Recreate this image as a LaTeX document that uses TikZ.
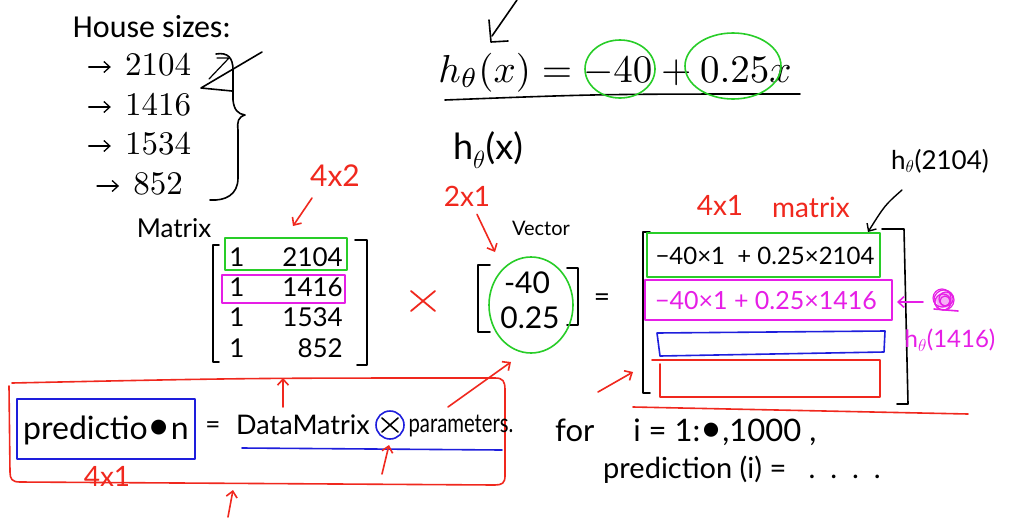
\documentclass[tikz,border=0pt]{standalone}
\usepackage{fontspec}
\newfontfamily\slidefont{Carlito}
\newfontfamily\handfont{Lato}
\usetikzlibrary{arrows.meta}
\newcommand\fsz[1]{\fontsize{#1}{#1}\selectfont}
\definecolor{pgreen}{RGB}{40,205,40}
\definecolor{pmag}{RGB}{230,30,230}
\definecolor{pblue}{RGB}{30,30,220}
\definecolor{pred}{RGB}{240,40,30}
\begin{document}
\begin{tikzpicture}[x=1pt,y=-1pt,
  ink/.style={line width=1.6pt,line cap=round,line join=round},
  arr/.style={ink,-{Straight Barb[length=6pt,width=11pt]}},
  hw/.style={font={\handfont\fsz{#1}},inner sep=0pt},
  hw/.default=22,
  num/.style={inner sep=0pt}]
\fill[white] (0,0) rectangle (1011,525);
\useasboundingbox (0,0) rectangle (1011,525);

% --- house sizes
\node[font={\slidefont\fsz{32}},inner sep=0pt] (title) at (152,27) {House sizes:};
\node[num] (n1) at (158,65) {\scalebox{3.3}{2104}};
\node[num] (n2) at (158,105) {\scalebox{3.3}{1416}};
\node[num] (n3) at (158,144) {\scalebox{3.3}{1534}};
\node[num] (n4) at (158,184) {\scalebox{3.3}{852}};
\foreach \n in {n1,n2,n3,n4}
  \draw[arr,line width=1.3pt] (\n.west) ++(-36,2) -- ++(22,0);
% brace
\draw[ink] (216,54) .. controls (228,52) and (233,58) .. (233,70)
  -- (233,100) .. controls (234,110) and (238,114) .. (245,115)
  .. controls (238,117) and (237,122) .. (238,130)
  -- (238,178) .. controls (238,195) and (225,201) .. (210,200);
% scribble
\draw[ink] (262,52) -- (201,88) -- (232,91);
\draw[ink,line width=1.2pt] (217,58) -- (229,58) -- (209,79);

% --- hypothesis
\draw[ink] (517,0) -- (492,36);
\draw[ink] (489,20) -- (491,42) -- (508,41);
\node[inner sep=0pt,anchor=base] (hyp) at (615,82) {\scalebox{3.9}{$h_\theta(x) = -40 + 0.25x$}};
\draw[ink] (445,100) .. controls (600,94) .. (800,94);
\draw[ink,pgreen] (620,69) ellipse [x radius=35,y radius=29];
\draw[ink,pgreen] (733,66) ellipse [x radius=48,y radius=33];
\node[hw=36] (hx) at (488,150) {h$_\theta$(x)};

% --- data matrix
\node[hw=30,pred] (l42) at (335,176) {4x2};
\coordinate (m42) at (293,226);
\draw[arr,pred] (312,198) -- (m42);
\node[hw=26] (matlab) at (174,228) {Matrix};
\foreach \r/\y/\v in {1/257/2104,2/287/1416,3/317/1534,4/348/852}{
  \node[hw=26] (a\r) at (237,\y) {1};
  \node[hw=26,anchor=east] (b\r) at (343,\y) {\v};
}
\draw[ink] (219,245) -- (213,245) -- (213,362) -- (219,362);
\draw[ink] (355,240) -- (367,240) -- (367,365) -- (357,365);
\draw[ink,pgreen] (225,238) rectangle (347,270);
\draw[ink,pmag] (222,275) rectangle (345,303);

% --- times
\draw[ink,pred,line width=1.8pt] (411,291) -- (435,311) (435,291) -- (411,311);

% --- vector
\node[hw=28,pred] (l21) at (467,196) {2x1};
\coordinate (v21) at (495,252);
\draw[arr,pred] (l21.south) ++(10,8) -- (v21);
\node[hw=20] (veclab) at (541,228) {Vector};
\node[hw=30] (v1) at (527,283) {-40};
\node[hw=30] (v2) at (530,318) {0.25};
\draw[ink] (490,265) -- (478,265) -- (478,332) -- (490,332);
\draw[ink] (567,268) -- (578,268) -- (578,325) -- (567,325);
\draw[ink,pgreen] (531,305) ellipse [x radius=42,y radius=48];
\node[hw=28] (eq) at (602,300) {=};

% --- result
\node[hw=28,pred] (l41) at (720,205) {4x1};
\node[hw=28,pred] (l41m) at (811,207) {matrix};
\node[hw=26] (h2104) at (940,161) {h$_\theta$(2104)};
\coordinate (t2104) at (868,232);
\draw[arr,line width=1.4pt] (902,190) .. controls (885,205) .. (t2104);
\draw[ink] (650,232) -- (643,232) -- (643,393) -- (650,393);
\draw[ink] (882,229) -- (904,229) -- (908,404) -- (897,404);
\draw[ink,pgreen] (647,233) rectangle (880,277);
\node[hw=24] (r1) at (765,256) {−40×1 \ + 0.25×2104};
\draw[ink,pmag] (645,280) rectangle (892,320);
\node[hw=25,pmag] (r2) at (766,301) {−40×1 + 0.25×1416};
\draw[ink,pblue] (657,333) -- (885,331) -- (884,352) -- (660,356) -- cycle;
\draw[ink,pred] (652,360) -- (880,360) -- (880,397) -- (660,397) -- (660,364);
\draw[ink,pred] (633,407) -- (968,414);
\coordinate (rin) at (633,372);
\draw[arr,pred] (598,392) -- (rin);
% magenta h(1416)
\coordinate (mtip) at (897,302);
\node[inner sep=0pt,minimum size=20pt] (blob) at (944,300) {};
\draw[arr,pmag] (923,302) -- (mtip);
\fill[pmag!35] (944,300) circle (8);
\foreach \dx/\dy/\rr in {0/0/10,2/-1/7,-1/2/8,1/1/5,-2/-2/9}
  \draw[ink,pmag,line width=1.2pt] (944+\dx,300+\dy) circle (\rr);
\draw[ink,pmag] (934,309) -- (958,311);
\node[hw=24,pmag] (h1416) at (950,340) {h$_\theta$(1416)};

% --- bottom statement
\draw[ink,pred] (12,383) .. controls (250,378) .. (495,378)
  .. controls (503,378) and (505,381) .. (505,390)
  -- (505,476) .. controls (505,483) and (502,485) .. (495,485)
  -- (20,482) .. controls (12,482) and (10,479) .. (10,472) -- (9,386);
\node[draw=pblue,ink,minimum width=178pt,minimum height=60pt,inner sep=0pt] (predbox) at (106,429) {};
\node[hw=32] (pred) at (106,430) {predictio{\fsz{40}•}n};
\node[hw=26] (eq2) at (213,428) {=};
\node[hw=27] (dm) at (303,425) {DataMatrix};
\node[draw=pblue,circle,ink,inner sep=0pt,minimum size=28pt] (star) at (390,425) {};
\draw[ink] (star.center) ++(-8,-7) -- ++(16,14) (star.center) ++(8,-7) -- ++(-16,14);
\node[hw=26] (par) at (461,426) {\scalebox{0.78}[1]{parameters.}};
\draw[ink,pblue] (242,448) -- (502,450);
\node[hw=28,pred] (l41b) at (107,476) {4x1};
\coordinate (u1) at (283,378);
\draw[arr,pred] (283,407) -- (u1);
\coordinate (u2) at (389,445);
\draw[arr,pred] (382,474) -- (u2);
\coordinate (u3) at (233,490);
\draw[arr,pred] (228,517) -- (u3);
\coordinate (u4) at (511,362);
\draw[arr,pred] (448,407) -- (u4);

% --- loop
\node[hw=31,anchor=west] (for) at (555,432) {for\quad\ i = 1:{\fsz{38}•},1000 ,};
\node[hw=29,anchor=west] (loop) at (603,470) {prediction (i) = \ \ .\ \ .\ \ .\ \ .};
\end{tikzpicture}
\end{document}
